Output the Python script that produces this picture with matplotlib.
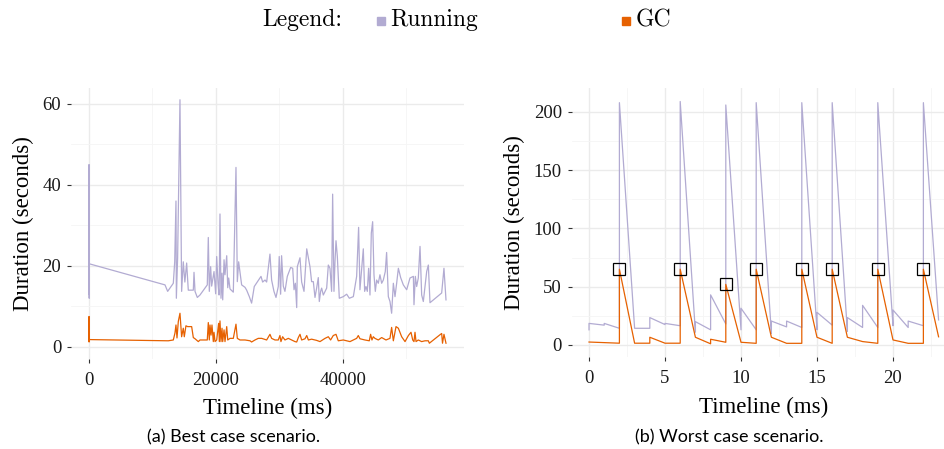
import numpy as np
import matplotlib
matplotlib.use("Agg")
import matplotlib.pyplot as plt
from matplotlib.ticker import MultipleLocator

# colours (PuOr-ish)
running_color = "#b2abd2"
gc_color = "#e66101"

# ---- (a) best case: running durations ----
best_run_x = [0, 10, 20, 30, 40, 60,
              11970, 12390, 13280, 13500, 13700, 13760, 13960, 14330, 14590, 14850,
              15100, 15380, 15640, 16430, 16540, 16700, 17060, 17480, 18630, 18790,
              18950, 19160, 19320, 19690, 19950, 20110, 20320, 20480, 20530, 20630,
              20790, 20950, 21060, 21270, 21420, 21690, 21850, 22000, 22210, 22730,
              23150, 23360, 23570, 24040, 24570, 24830, 25250, 25610, 26030, 27090,
              27350, 27720, 27980, 28500, 28760, 29130, 29450, 29810, 29960, 30180,
              30330, 30600, 30860, 31230, 31760, 32080, 32290, 32500, 32710, 32810,
              33230, 33490, 33860, 34290, 34800, 35060, 35330, 35590, 35850, 36110,
              36270, 36480, 36640, 36900, 37430, 37690, 37950, 38210, 38370, 38580,
              38740, 38900, 39110, 39420, 40050, 40580, 41000, 41630, 42150, 42460,
              42670, 42940, 43200, 43410, 43620, 43830, 44040, 44250, 44460, 44670,
              44880, 45090, 45300, 45560, 45820, 46090, 46350, 46660, 46870, 47140,
              47400, 47660, 47930, 48190, 48450, 48720, 49080, 49500, 50030, 50550,
              51080, 51180, 51390, 51600, 51860, 52130, 52390, 52650, 53180, 53440,
              53700, 55540, 55900, 56220]
best_run_y = [20, 45, 13, 30, 12, 20.5,
              15.3, 13.7, 15.7, 21, 36, 12, 22, 61, 13.7, 21,
              16, 20.7, 14, 14, 18.4, 13.7, 12.2, 12.8, 15.3, 27,
              13.7, 19.8, 15, 18.6, 13.1, 22.3, 15.7, 12.8, 18, 32.8,
              12, 18.2, 11.6, 21.5, 17.8, 22.5, 14.6, 17, 14.3, 13.5,
              44.3, 16.1, 21, 15.3, 14.7, 14, 12.4, 10.8, 14.9, 17.4,
              16, 16.5, 16, 22.9, 16.5, 13.7, 12.2, 14.9, 22.3, 13,
              22.5, 15, 13.7, 17.4, 19.6, 19.4, 14.1, 15.7, 9.7, 19.8,
              22, 16, 13.7, 24.2, 19.8, 16.1, 16.1, 12.2, 14.5, 17.1,
              11.2, 13.7, 14.5, 12.8, 14.5, 20.2, 19.4, 13.7, 37.7, 13.7,
              21, 26.2, 22.3, 12, 12.4, 13, 12, 12.4, 17.4, 29.5,
              14.1, 19.4, 24.2, 13.7, 14.9, 13.7, 19.4, 12.8, 28.1, 30.9,
              17.8, 13.7, 16.5, 15.7, 17.8, 15.7, 16.5, 18.6, 23.3, 12.4,
              11.2, 8.3, 15.7, 12.4, 15.7, 19.4, 17.1, 15.3, 14.1, 17,
              17.4, 10.4, 17.4, 14.9, 17, 24.8, 12.8, 11.2, 18.6, 20.2,
              10.9, 13.3, 19.4, 11.6]

# ---- (a) best case: GC durations ----
best_gc_x = [0, 10, 20, 40, 12490, 13280, 13540, 13700, 13860, 14070, 14330,
             14590, 14850, 15010, 15270, 15540, 16170, 16430, 16700, 17220, 17480,
             18630, 18790, 18950, 19060, 19220, 19370, 19580, 19690, 19850, 20110,
             20420, 20530, 20630, 20790, 20950, 21060, 21270, 21420, 21690, 21850,
             22210, 22730, 23150, 23360, 23780, 24570, 25360, 25610, 26140, 26660,
             27190, 27980, 28500, 28760, 29290, 29810, 30070, 30230, 30490, 30860,
             31390, 32440, 32710, 32970, 33230, 33490, 34020, 34290, 34550, 35060,
             35850, 36380, 37170, 37690, 38050, 38470, 38900, 39260, 40050, 41100,
             42150, 42410, 42670, 43460, 44140, 44350, 44560, 44770, 45030, 45560,
             46090, 46770, 47400, 47660, 47930, 48350, 48720, 49240, 49770, 50300,
             50710, 50980, 51180, 51340, 51500, 51860, 52390, 52910, 53440, 53600,
             55280, 55540, 55670, 55900, 56220]
best_gc_y = [1.5, 7.5, 1.2, 1.8, 1.5, 1.7, 3.4, 5.4, 2.2, 6.3, 8.3,
             2.5, 4.6, 2.5, 5.2, 5, 5, 2.3, 2, 1.3, 1.7,
             1.7, 6, 1.7, 5.4, 2.9, 5.4, 1.3, 3.6, 1.3, 1.7,
             5.8, 1.3, 6.4, 1.3, 4.6, 1.3, 4.2, 1.3, 5, 1.7,
             2.1, 2.1, 5.6, 2.1, 1.7, 1.7, 1.5, 1.2, 1.7, 2.1,
             2.1, 1.7, 3.1, 2.1, 1.7, 1.7, 2.8, 1.3, 2.5, 1.7,
             2.1, 1.3, 1.2, 2.3, 3.1, 1.7, 2, 2.8, 1.7, 1.9,
             1.6, 1.3, 2.1, 2.5, 1.7, 2.8, 3.1, 1.5, 1.7, 1.3,
             2.1, 2.8, 2, 1.7, 1.5, 3.1, 1.7, 2.5, 2.1, 1.7,
             2.3, 1.7, 2.1, 4.8, 1.5, 5, 4.6, 2.5, 1.3, 2.8,
             3.6, 1.7, 1.3, 3.6, 1.3, 1.7, 1.3, 1.5, 1.5, 0.9,
             3, 3.3, 0.9, 3.1, 0.9]

# ---- (b) worst case ----
worst_run_x = [0, 0, 1, 1, 2, 2, 3, 4, 4, 5, 5, 6, 6, 7, 7, 8, 8, 9, 9, 10, 10,
               11, 11, 12, 12, 13, 13, 14, 14, 15, 15, 16, 16, 17, 17, 18, 18,
               19, 19, 20, 20, 21, 21, 22, 22, 23]
worst_run_y = [13, 18.5, 17, 18.5, 14.3, 208, 14.3, 14.3, 23.5, 17.5, 18.5, 16.5, 209,
               11, 20, 13, 43, 18, 206, 13, 31.5, 13, 208, 10, 20.5, 15.5, 20.5,
               15, 208, 13, 28, 17, 208, 11.5, 23.5, 15, 34, 15, 208, 16.5, 30,
               15, 20.5, 16.5, 208, 21.5]
worst_gc_x = [0, 2, 2, 3, 4, 4, 5, 6, 6, 7, 8, 8, 9, 9, 10, 11, 11, 12, 13, 14, 14,
              15, 16, 16, 17, 18, 19, 19, 20, 21, 22, 22, 23]
worst_gc_y = [2.5, 1.5, 65, 1.5, 1.5, 6.6, 1.5, 1.5, 65, 6.6, 1.0, 4.9, 2.3, 52, 2.3,
              1.4, 65, 6.6, 1.4, 1.4, 65, 6.6, 1.4, 65, 6.6, 2.9, 1.4, 65, 4.3,
              1.4, 1.4, 65, 7]
peak_x = [2, 6, 9, 11, 14, 16, 19, 22]
peak_y = [65, 65, 52, 65, 65, 65, 65, 65]

serif = ["Liberation Serif", "DejaVu Serif"]
plt.rcParams["font.family"] = serif

fig = plt.figure(figsize=(9.45, 4.49), dpi=100)
ax1 = fig.add_axes([0.0751, 0.2004, 0.4159, 0.6045])
ax2 = fig.add_axes([0.6048, 0.2045, 0.4069, 0.5993])


def style(ax, xmaj, xmin, ymaj, ymin):
    for s in ax.spines.values():
        s.set_visible(False)
    ax.xaxis.set_major_locator(MultipleLocator(xmaj))
    ax.xaxis.set_minor_locator(MultipleLocator(xmin))
    ax.yaxis.set_major_locator(MultipleLocator(ymaj))
    ax.yaxis.set_minor_locator(MultipleLocator(ymin))
    ax.grid(which="major", color="#ebebeb", lw=1.0, zorder=0)
    ax.grid(which="minor", color="#f5f5f5", lw=0.6, zorder=0)
    ax.tick_params(which="major", length=3, width=0.8, color="#333333",
                   labelsize=13.5, labelcolor="#1a1a1a", pad=4)
    ax.tick_params(axis="x", which="major", pad=6)
    ax.tick_params(which="minor", length=0)
    ax.set_axisbelow(True)
    ax.set_xlabel("Timeline (ms)", fontsize=16.5, labelpad=7)
    ax.set_ylabel("Duration (seconds)", fontsize=16.5, labelpad=6)


ax1.plot(best_run_x, best_run_y, color=running_color, lw=0.9)
ax1.plot(best_gc_x, best_gc_y, color=gc_color, lw=0.9)
ax1.set_xlim(-2835, 59055)
ax1.set_ylim(-3, 64)
style(ax1, 20000, 10000, 20, 10)

ax2.plot(worst_run_x, worst_run_y, color=running_color, lw=0.9)
ax2.plot(worst_gc_x, worst_gc_y, color=gc_color, lw=0.9)
ax2.plot(peak_x, peak_y, ls="none", marker="s", markersize=8,
         markerfacecolor="none", markeredgecolor="black", markeredgewidth=0.9)
ax2.set_xlim(-1.15, 24.15)
ax2.set_ylim(-10.5, 220.5)
style(ax2, 5, 2.5, 50, 25)

# captions
cap_font = ["Lato", "DejaVu Sans"]
fig.text(0.2476, 0.027, "(a) Best case scenario.", ha="center", va="center",
         fontsize=13, family=cap_font)
fig.text(0.7715, 0.027, "(b) Worst case scenario.", ha="center", va="center",
         fontsize=13, family=cap_font)

# legend row
leg_font = ["cmr10", "DejaVu Serif"]
fig.text(262 / 945, 1 - 20 / 449, "Legend:", ha="left", va="center",
         fontsize=17, family=leg_font)
fig.patches.append(plt.Rectangle((377 / 945, 1 - 25 / 449), 8 / 945, 8 / 449,
                                 transform=fig.transFigure, color=running_color))
fig.text(390 / 945, 1 - 20 / 449, "Running", ha="left", va="center",
         fontsize=17, family=leg_font)
fig.patches.append(plt.Rectangle((622 / 945, 1 - 25 / 449), 8 / 945, 8 / 449,
                                 transform=fig.transFigure, color=gc_color))
fig.text(636 / 945, 1 - 20 / 449, "GC", ha="left", va="center",
         fontsize=17, family=leg_font)

fig.savefig("out.png", dpi=100)
